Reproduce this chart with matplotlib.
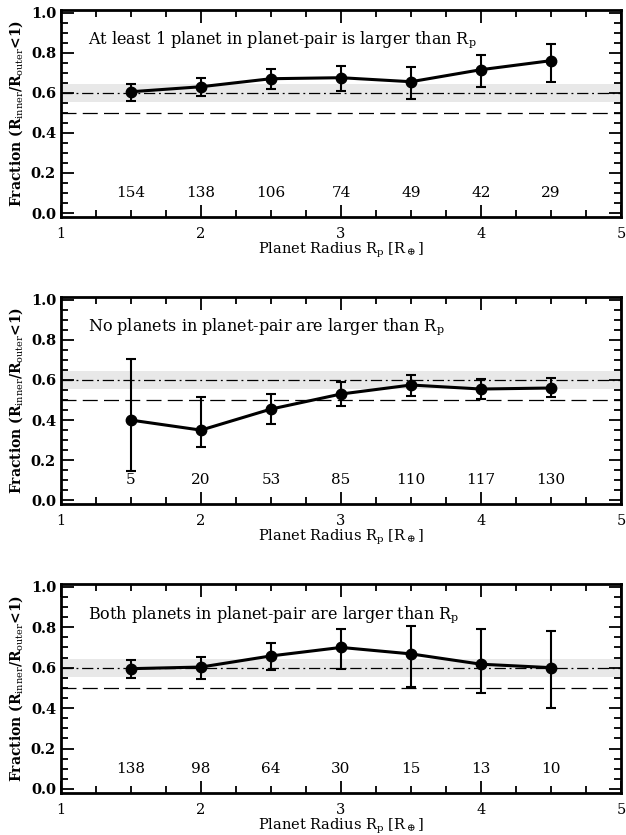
import numpy as np
import matplotlib
matplotlib.use("Agg")
import matplotlib.pyplot as plt
from matplotlib.ticker import MultipleLocator

plt.rcParams['font.family'] = 'DejaVu Serif'
plt.rcParams['mathtext.fontset'] = 'dejavuserif'

radius = [1.5, 2.0, 2.5, 3.0, 3.5, 4.0, 4.5]

# panel 1: at least one planet larger than Rp
frac_any = [0.605, 0.630, 0.670, 0.675, 0.655, 0.715, 0.760]
lo_any = [0.560, 0.585, 0.620, 0.610, 0.570, 0.630, 0.655]
hi_any = [0.645, 0.675, 0.720, 0.735, 0.730, 0.790, 0.845]
n_any = [154, 138, 106, 74, 49, 42, 29]

# panel 2: no planets larger than Rp
frac_none = [0.400, 0.350, 0.455, 0.530, 0.575, 0.555, 0.560]
lo_none = [0.145, 0.265, 0.380, 0.470, 0.520, 0.505, 0.515]
hi_none = [0.705, 0.515, 0.530, 0.590, 0.625, 0.605, 0.610]
n_none = [5, 20, 53, 85, 110, 117, 130]

# panel 3: both planets larger than Rp
frac_both = [0.595, 0.603, 0.658, 0.700, 0.668, 0.617, 0.600]
lo_both = [0.550, 0.545, 0.590, 0.595, 0.505, 0.475, 0.400]
hi_both = [0.640, 0.655, 0.720, 0.790, 0.805, 0.790, 0.780]
n_both = [138, 98, 64, 30, 15, 13, 10]

titles = ["At least 1 planet in planet-pair is larger than R$_{\\rm p}$",
          "No planets in planet-pair are larger than R$_{\\rm p}$",
          "Both planets in planet-pair are larger than R$_{\\rm p}$"]

band_lo, band_hi = 0.555, 0.645
overall = 0.6
half = 0.5

panels = [(frac_any, lo_any, hi_any, n_any),
          (frac_none, lo_none, hi_none, n_none),
          (frac_both, lo_both, hi_both, n_both)]

fig = plt.figure(figsize=(6.26, 8.35), dpi=100)
bottoms = [0.740, 0.396, 0.0503]
heights = [0.248, 0.248, 0.250]

for i, (frac, lo, hi, n) in enumerate(panels):
    ax = fig.add_axes([0.0974, bottoms[i], 0.8946, heights[i]])
    frac = np.array(frac)
    yerr = [frac - np.array(lo), np.array(hi) - frac]

    ax.axhspan(band_lo, band_hi, color='#e8e8e8', lw=0, zorder=0)
    ax.axhline(overall, color='k', lw=0.9, ls=(0, (9, 3, 1.5, 3)), zorder=1)
    ax.axhline(half, color='k', lw=0.9, ls=(0, (12, 5)), zorder=1)

    ax.errorbar(radius, frac, yerr=yerr, fmt='o-', color='k', ms=7.5,
                lw=2.2, elinewidth=1.5, capsize=3.5, capthick=1.5, zorder=3)

    for x, c in zip(radius, n):
        ax.text(x, 0.10, str(c), ha='center', va='center', fontsize=11)

    ax.text(1.19, 0.865, titles[i], ha='left', va='center', fontsize=11.5)

    ax.set_xlim(1, 5)
    ax.set_ylim(-0.02, 1.0125)
    ax.xaxis.set_major_locator(MultipleLocator(1))
    ax.xaxis.set_minor_locator(MultipleLocator(0.25))
    ax.yaxis.set_minor_locator(MultipleLocator(0.05))
    ax.set_yticks(np.arange(0, 1.01, 0.2))
    ax.set_yticklabels(["%.1f" % v for v in np.arange(0, 1.01, 0.2)],
                       fontweight='bold')
    ax.tick_params(which='both', direction='in', top=True, right=True,
                   labelsize=10.5, width=1.3)
    ax.tick_params(axis='x', pad=7)
    ax.tick_params(which='major', length=9)
    ax.tick_params(which='minor', length=5)
    for s in ax.spines.values():
        s.set_linewidth(2)

    ax.set_xlabel("Planet Radius R$_{\\rm p}$ [R$_\\oplus$]", fontsize=10.5,
                  labelpad=0)
    ax.set_ylabel("Fraction (R$_{\\rm inner}$/R$_{\\rm outer}$<1)",
                  fontsize=10, fontweight='bold', labelpad=4)

fig.savefig("out.png", dpi=100)
